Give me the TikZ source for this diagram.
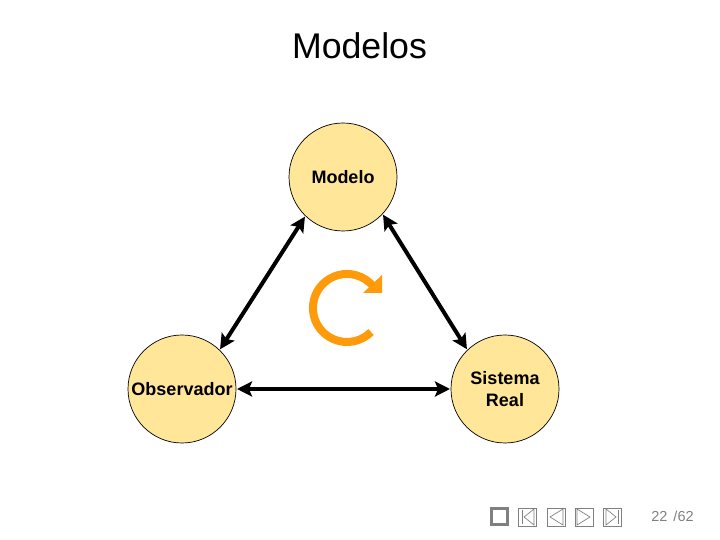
\documentclass[tikz,border=0pt]{standalone}
\usepackage{fontspec}
\setmainfont{Liberation Sans}
\usetikzlibrary{arrows.meta}
\definecolor{bubble}{HTML}{FFE699}
\definecolor{giro}{HTML}{FF9A0A}
\definecolor{navgray}{HTML}{808080}
\tikzset{
  bubble/.style={draw, circle, fill=bubble, line width=0.7pt, minimum size=108pt, inner sep=0, outer sep=0,
    align=center, font=\fontsize{18}{22}\selectfont\bfseries},
  link/.style={{Stealth[length=15pt,width=15pt,inset=3pt]}-{Stealth[length=15pt,width=15pt,inset=3pt]}, line width=4pt, shorten <=1pt, shorten >=1pt},
  navbtn/.style={draw=navgray, line width=0.8pt, minimum width=18pt, minimum height=18pt, inner sep=0, outer sep=0},
  navmark/.style={draw=navgray, line width=0.7pt, line join=miter}
}
\begin{document}
\begin{tikzpicture}[x=1pt,y=1pt]
\useasboundingbox (0,0) rectangle (720,540);
\node[font=\fontsize{35.7}{40}\selectfont] (title) at (359.5,494) {Modelos};
\node[bubble] (modelo) at (343,363) {Modelo};
\node[bubble] (observador) at (182,151) {Observador};
\node[bubble] (sistema) at (505,151) {Sistema\\Real};
\draw[link] (modelo.226) -- (observador.46);
\draw[link] (modelo.317) -- (sistema.134);
\draw[link] (observador.east) -- (sistema.west);
% giro
\draw[giro, line width=8pt] (371,208) arc[start angle=-45, end angle=-322, radius=34];
\fill[giro] (382,265) -- (382,247) -- (363,247) -- cycle;
% barra de navegacion
\node[navbtn, line width=3pt, minimum width=16pt, minimum height=16pt] (stopbtn) at (499.5,23) {};
\node[navbtn] (firstbtn) at (527,23) {};
\node[navbtn] (prevbtn) at (556,23) {};
\node[navbtn] (nextbtn) at (584,23) {};
\node[navbtn] (lastbtn) at (612.5,23) {};
\draw[navmark] (522,30) -- (522,16);
\draw[navmark] (534,31) -- (524,23) -- (534,15) -- cycle;
\draw[navmark] (563,31) -- (550,23) -- (563,15) -- cycle;
\draw[navmark] (577,31) -- (590,23) -- (577,15) -- cycle;
\draw[navmark] (606,31) -- (616,23) -- (606,15) -- cycle;
\draw[navmark] (618.5,30) -- (618.5,16);
\node[text=navgray, font=\fontsize{14.5}{16}\selectfont, inner sep=0] (page) at (672.5,24) {22\hspace{6pt}/62};
\end{tikzpicture}
\end{document}
